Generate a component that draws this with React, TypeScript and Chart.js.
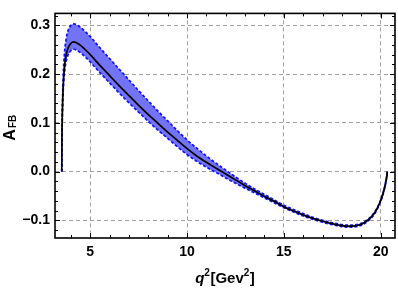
import React, { useEffect, useRef } from "react";
import { Chart, registerables } from "chart.js";

Chart.register(...registerables);

const Q2 = [3.53, 3.54, 3.56, 3.6, 3.67, 3.75, 3.85, 4.0, 4.15, 4.3, 4.5, 4.75, 5.0, 5.5, 6.0, 6.5, 7.0, 7.5, 8.0, 8.5, 9.0, 9.5, 10.0, 10.5, 11.0, 11.5, 12.0, 12.5, 13.0, 13.5, 14.0, 14.5, 15.0, 15.5, 16.0, 16.5, 17.0, 17.5, 18.0, 18.25, 18.5, 19.0, 19.3, 19.5, 19.7, 19.9, 20.05, 20.15, 20.22, 20.28, 20.32, 20.34];

const AFB_CENTRAL = [0, 0.07, 0.12, 0.172, 0.215, 0.238, 0.253, 0.263, 0.266, 0.264, 0.259, 0.25, 0.24, 0.218, 0.197, 0.176, 0.156, 0.136, 0.117, 0.099, 0.081, 0.064, 0.047, 0.032, 0.019, 0.007, -0.005, -0.017, -0.029, -0.04, -0.051, -0.061, -0.072, -0.081, -0.089, -0.096, -0.102, -0.107, -0.111, -0.112, -0.112, -0.108, -0.101, -0.094, -0.084, -0.069, -0.054, -0.041, -0.03, -0.018, -0.009, 0];

const AFB_UPPER = [0, 0.08, 0.132, 0.192, 0.243, 0.271, 0.289, 0.3, 0.303, 0.301, 0.296, 0.287, 0.277, 0.254, 0.232, 0.21, 0.188, 0.166, 0.145, 0.124, 0.104, 0.084, 0.065, 0.048, 0.032, 0.017, 0.003, -0.011, -0.024, -0.036, -0.047, -0.058, -0.069, -0.078, -0.086, -0.094, -0.1, -0.105, -0.109, -0.11, -0.11, -0.106, -0.099, -0.092, -0.082, -0.068, -0.053, -0.04, -0.029, -0.017, -0.008, 0];

const AFB_LOWER = [0, 0.065, 0.112, 0.162, 0.203, 0.225, 0.239, 0.248, 0.251, 0.249, 0.244, 0.235, 0.225, 0.203, 0.182, 0.161, 0.141, 0.122, 0.103, 0.085, 0.068, 0.051, 0.035, 0.021, 0.009, -0.002, -0.013, -0.024, -0.034, -0.044, -0.054, -0.064, -0.074, -0.083, -0.091, -0.098, -0.104, -0.109, -0.113, -0.114, -0.114, -0.11, -0.103, -0.096, -0.086, -0.071, -0.056, -0.043, -0.031, -0.019, -0.01, 0];

const X_TICKS = [5, 10, 15, 20];
const X_TICK_LABELS = ["5", "10", "15", "20"];
const Y_TICKS = [-0.1, 0, 0.1, 0.2, 0.3];
const Y_TICK_LABELS = ["\u22120.1", "0.0", "0.1", "0.2", "0.3"];
const X_MINOR = [4, 5, 6, 7, 8, 9, 10, 11, 12, 13, 14, 15, 16, 17, 18, 19, 20];
const Y_MINOR = [-0.12, -0.1, -0.08, -0.06, -0.04, -0.02, 0, 0.02, 0.04, 0.06, 0.08, 0.1, 0.12, 0.14, 0.16, 0.18, 0.2, 0.22, 0.24, 0.26, 0.28, 0.3, 0.32];

const FONT = '"Liberation Sans", Arial, sans-serif';

const framePlugin = {
  id: "frameAndTitles",
  afterDraw(chart: any) {
    const { ctx, chartArea: a, scales } = chart;
    const x = scales.x;
    const y = scales.y;
    ctx.save();
    ctx.strokeStyle = "#000";
    ctx.lineWidth = 1;
    for (const v of X_MINOR) {
      const px = Math.round(x.getPixelForValue(v)) + 0.5;
      const len = X_TICKS.includes(v) ? 5 : 3;
      ctx.beginPath();
      ctx.moveTo(px, a.bottom);
      ctx.lineTo(px, a.bottom - len);
      ctx.moveTo(px, a.top);
      ctx.lineTo(px, a.top + len);
      ctx.stroke();
    }
    for (const v of Y_MINOR) {
      const py = Math.round(y.getPixelForValue(v)) + 0.5;
      if (py < a.top || py > a.bottom) continue;
      const major = Y_TICKS.some((t) => Math.abs(t - v) < 1e-9);
      const len = major ? 5 : 3;
      ctx.beginPath();
      ctx.moveTo(a.left, py);
      ctx.lineTo(a.left + len, py);
      ctx.moveTo(a.right, py);
      ctx.lineTo(a.right - len, py);
      ctx.stroke();
    }
    ctx.lineWidth = 1.6;
    ctx.strokeRect(a.left, a.top, a.right - a.left, a.bottom - a.top);

    // x title: q^2[Gev^2]
    ctx.fillStyle = "#000";
    ctx.textBaseline = "alphabetic";
    ctx.textAlign = "left";
    const big = `bold 15px ${FONT}`;
    const bigIt = `italic bold 15px ${FONT}`;
    const sup = `bold 10px ${FONT}`;
    const parts = [
      { t: "q", f: bigIt, dy: 0 },
      { t: "2", f: sup, dy: -7 },
      { t: "[Gev", f: big, dy: 0 },
      { t: "2", f: sup, dy: -7 },
      { t: "]", f: big, dy: 0 },
    ];
    let total = 0;
    for (const p of parts) {
      ctx.font = p.f;
      total += ctx.measureText(p.t).width + (p.t === "2" ? 0.5 : 0);
    }
    let cx = (a.left + a.right) / 2 - total / 2;
    const baseY = 283;
    for (const p of parts) {
      ctx.font = p.f;
      ctx.fillText(p.t, cx, baseY + p.dy);
      cx += ctx.measureText(p.t).width + (p.t === "2" ? 0.5 : 0);
    }

    // y title: A_FB
    ctx.save();
    ctx.translate(15, (a.top + a.bottom) / 2 + 2);
    ctx.rotate(-Math.PI / 2);
    ctx.font = `bold 16px ${FONT}`;
    const wA = ctx.measureText("A").width;
    ctx.font = `bold 10px ${FONT}`;
    const wS = ctx.measureText("FB").width;
    const start = -(wA + wS + 1) / 2;
    ctx.font = `bold 16px ${FONT}`;
    ctx.fillText("A", start, 0);
    ctx.font = `bold 10px ${FONT}`;
    ctx.fillText("FB", start + wA + 1, 1);
    ctx.restore();

    ctx.restore();
  },
};

export default function App() {
  const ref = useRef<HTMLCanvasElement | null>(null);

  useEffect(() => {
    document.body.style.margin = "0";
    const canvas = ref.current;
    if (!canvas) return;
    const pts = (ys: number[]) => Q2.map((q, i) => ({ x: q, y: ys[i] }));
    const chart = new Chart(canvas, {
      type: "line",
      data: {
        datasets: [
          {
            label: "central",
            data: pts(AFB_CENTRAL),
            borderColor: "#000000",
            borderWidth: 1.7,
            pointRadius: 0,
            fill: false,
            cubicInterpolationMode: "monotone",
            order: 0,
          },
          {
            label: "upper",
            data: pts(AFB_UPPER),
            borderColor: "#1010ff",
            borderWidth: 1.7,
            borderDash: [3, 2],
            pointRadius: 0,
            fill: { target: 2 },
            backgroundColor: "rgba(115,115,250,1)",
            cubicInterpolationMode: "monotone",
            order: 2,
          },
          {
            label: "lower",
            data: pts(AFB_LOWER),
            borderColor: "#1010ff",
            borderWidth: 1.7,
            borderDash: [3, 2],
            pointRadius: 0,
            fill: false,
            cubicInterpolationMode: "monotone",
            order: 1,
          },
        ],
      },
      options: {
        responsive: false,
        animation: false,
        events: [],
        layout: { padding: { left: 0, top: 3, right: 3, bottom: 0 } },
        plugins: {
          legend: { display: false },
          tooltip: { enabled: false },
          filler: { drawTime: "beforeDatasetsDraw" },
        },
        scales: {
          x: {
            type: "linear",
            min: 3.18,
            max: 20.74,
            afterBuildTicks: (s: any) => {
              s.ticks = X_TICKS.map((v) => ({ value: v }));
            },
            afterFit: (s: any) => {
              s.height = 51;
            },
            grid: { color: "#a0a0a0", lineWidth: 1, drawTicks: false },
            border: { display: false, dash: [4, 3] },
            ticks: {
              padding: 6,
              color: "#000",
              font: { family: FONT, size: 14, weight: "bold" },
              maxRotation: 0,
              callback: (v: any) => X_TICK_LABELS[X_TICKS.indexOf(v)] ?? "",
            },
          },
          y: {
            type: "linear",
            min: -0.1363,
            max: 0.3246,
            afterBuildTicks: (s: any) => {
              s.ticks = Y_TICKS.map((v) => ({ value: v }));
            },
            afterFit: (s: any) => {
              s.width = 55;
            },
            grid: { color: "#a0a0a0", lineWidth: 1, drawTicks: false },
            border: { display: false, dash: [4, 3] },
            ticks: {
              padding: 5,
              color: "#000",
              font: { family: FONT, size: 14, weight: "bold" },
              callback: (v: any) => {
                const i = Y_TICKS.findIndex((t) => Math.abs(t - v) < 1e-9);
                return i >= 0 ? Y_TICK_LABELS[i] : "";
              },
            },
          },
        },
      },
      plugins: [framePlugin],
    } as any);
    return () => chart.destroy();
  }, []);

  return (
    <div style={{ width: 398, height: 289, background: "#fff" }}>
      <canvas ref={ref} width={398} height={289} style={{ display: "block" }} />
    </div>
  );
}
